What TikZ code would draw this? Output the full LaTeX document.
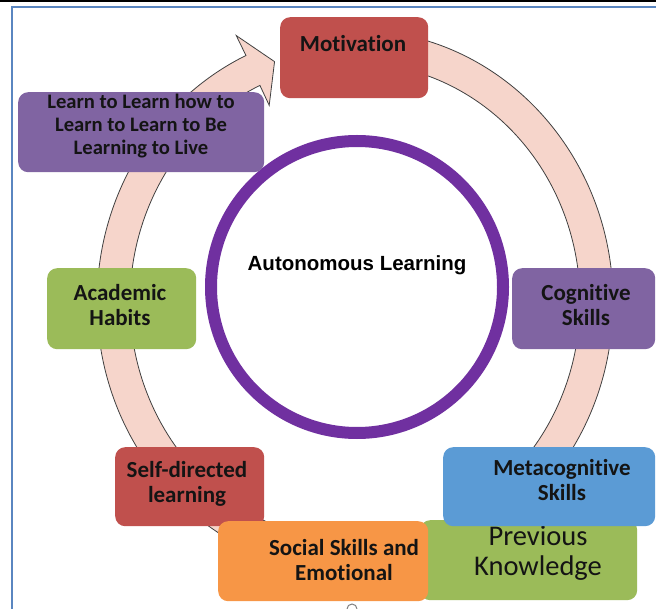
\documentclass[tikz,border=0pt]{standalone}
\usepackage{fontspec}
\setmainfont{Carlito}[Ligatures={NoCommon,NoRare,NoContextual}]
\newfontfamily\headfont{Liberation Sans}
\usetikzlibrary{calc}

\definecolor{cRed}{HTML}{C0504D}
\definecolor{cViolet}{HTML}{8064A2}
\definecolor{cGreen}{HTML}{9BBB59}
\definecolor{cBlue}{HTML}{5B9BD5}
\definecolor{cOrange}{HTML}{F79646}
\definecolor{cRing}{HTML}{7030A0}
\definecolor{cArrow}{HTML}{F6D5CB}
\definecolor{cArrowEdge}{HTML}{404040}
\definecolor{cFrame}{HTML}{5A86C0}

\begin{document}
\begin{tikzpicture}[x=1pt,y=-1pt,
  card/.style={rounded corners=10pt, inner sep=0pt, anchor=north west},
  cardtext/.style={font=\bfseries\fontsize{23}{25}\selectfont, align=center,
    inner sep=0pt, text={rgb,255:red,20;green,20;blue,20}},
  smallcardtext/.style={cardtext, font=\bfseries\fontsize{20.6}{23}\selectfont},
  plaintext/.style={font=\fontsize{28.5}{30}\selectfont, align=center,
    inner sep=0pt, text={rgb,255:red,20;green,20;blue,20}},
  cyclearrow/.style={fill=cArrow, draw=cArrowEdge, line width=0.8pt, line join=miter}]

\useasboundingbox (0,0) rectangle (656,609);

% page rules
\draw[black, line width=1.6pt] (0,0.8) -- (656,0.8);
\draw[cFrame, line width=1.6pt] (656,7) -- (12,7) -- (12,609);

% big circular arrow running clockwise, head pointing at "Motivation"
\coordinate (C) at (355,302);
\path[cyclearrow]
  ($(C)+(-85:258 and 272)$)
  arc[start angle=-85, end angle=245, x radius=258, y radius=272]
  -- ($(C)+(245:281 and 294)$)
  -- ($(C)+(250.5:241 and 255)$)
  -- ($(C)+(245:203 and 217)$)
  -- ($(C)+(245:225 and 239)$)
  arc[start angle=245, end angle=-85, x radius=225, y radius=239]
  -- cycle;

% central ring
\node[draw=cRing, line width=12pt, circle, minimum size=292pt, inner sep=0pt]
  (core) at (357,287) {};
\node[font=\headfont\bfseries\fontsize{20.5}{24}\selectfont, inner sep=0pt]
  (coreT) at (357,265) {Autonomous Learning};

% cards
\node[card, fill=cRed, minimum width=148pt, minimum height=81pt] (mot) at (280,17) {};
\node[cardtext] (motT) at (353,44) {Motivation};

\node[card, fill=cViolet, minimum width=246pt, minimum height=80pt] (l2l) at (18,92) {};
\node[smallcardtext] (l2lT) at (141,126) {Learn to Learn how to\\Learn to Learn to Be\\Learning to Live};

\node[card, fill=cGreen, minimum width=149pt, minimum height=81pt] (aca) at (47,268) {};
\node[cardtext] (acaT) at (120,305) {Academic\\Habits};

\node[card, fill=cViolet, minimum width=143pt, minimum height=81pt] (cog) at (512,268) {};
\node[cardtext] (cogT) at (586,305) {Cognitive\\Skills};

\node[card, fill=cRed, minimum width=149pt, minimum height=79pt] (sdl) at (115,447) {};
\node[cardtext] (sdlT) at (187,484) {Self-directed\\learning};

\node[card, fill=cGreen, minimum width=217pt, minimum height=80pt] (prev) at (420,520) {};
\node[plaintext] (prevT) at (538,553) {Previous\\Knowledge};

\node[card, fill=cOrange, minimum width=210pt, minimum height=80pt] (soc) at (218,521) {};
\node[cardtext] (socT) at (344,560) {Social Skills and\\Emotional};

\node[card, fill=cBlue, minimum width=212pt, minimum height=79pt] (meta) at (443,447) {};
\node[cardtext] (metaT) at (562,480) {Metacognitive\\Skills};

% small handle mark at the lower edge
\draw[gray, line width=1pt] (347,609) arc[start angle=180, end angle=360, radius=5];

\end{tikzpicture}
\end{document}
